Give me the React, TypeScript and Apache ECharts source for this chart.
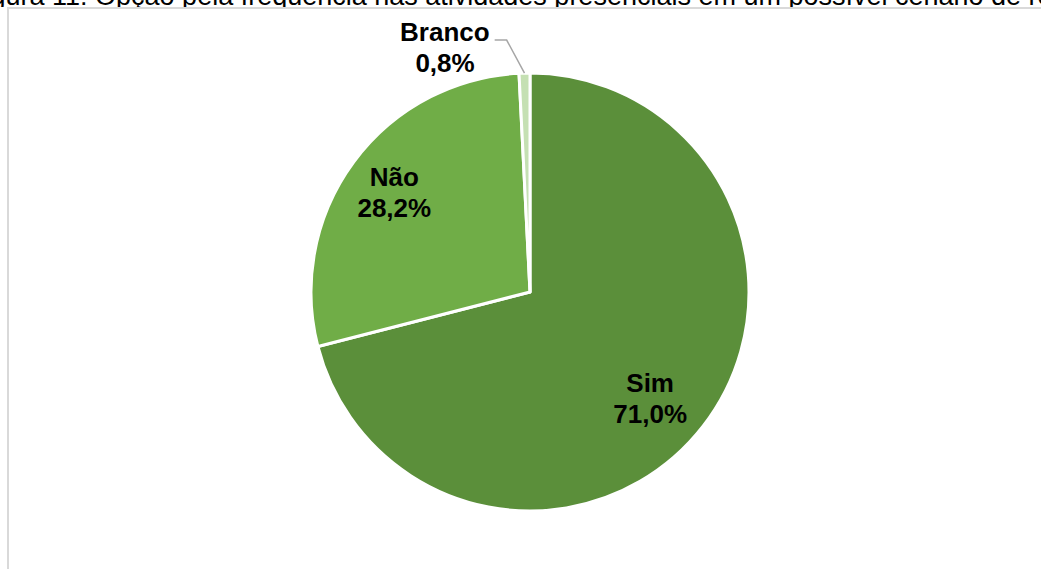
import React, { useEffect, useRef } from "react";
import * as echarts from "echarts";

const categories = ["Sim", "Não", "Branco"];
const values = [71.0, 28.2, 0.8];
const colors = ["#5b8f3a", "#70ad47", "#c5e0b3"];
const caption =
  "Figura 11: Opção pela frequência nas atividades presenciais em um possível cenário de retorno";

const fmt = (v: number) => v.toFixed(1).replace(".", ",") + "%";

export default function App() {
  const ref = useRef<HTMLDivElement>(null);
  useEffect(() => {
    if (!ref.current) return;
    const chart = echarts.init(ref.current, null, { renderer: "svg" });
    const center = [530, 292];
    const R = 219;
    const insideOffsets: Record<string, number[]> = { Sim: [-13, 3], "Não": [0, 0] };
    const data = categories.map((name, i) => ({
      name,
      value: values[i],
      itemStyle: { color: colors[i] },
    }));
    const labelFont = {
      fontFamily: "Liberation Sans, Arial, sans-serif",
      fontWeight: "bold" as const,
      fontSize: 26,
      lineHeight: 31,
      color: "#000",
    };
    chart.setOption({
      animation: false,
      backgroundColor: "#fff",
      graphic: [
        {
          type: "text",
          x: -32,
          y: -4.5,
          z: 1,
          style: {
            text: caption,
            fontFamily: "Liberation Sans, Arial, sans-serif",
            fontSize: 27,
            fill: "#000",
            verticalAlign: "middle",
            align: "left",
          },
        },
        {
          type: "rect",
          z: 2,
          shape: { x: 0, y: 7, width: 1041, height: 600 },
          style: { fill: "#fff" },
        },
        {
          type: "rect",
          z: 3,
          shape: { x: 8, y: 8, width: 1100, height: 650 },
          style: { fill: "none", stroke: "#d9d9d9", lineWidth: 2 },
        },
      ],
      series: [
        {
          type: "pie",
          z: 5,
          center,
          radius: [0, R],
          startAngle: 90,
          clockwise: true,
          silent: true,
          label: { show: false },
          labelLine: { show: false },
          itemStyle: { borderColor: "#fff", borderWidth: 3 },
          emphasis: { disabled: true },
          data,
        },
        {
          type: "pie",
          z: 6,
          center,
          radius: [112, R],
          startAngle: 90,
          clockwise: true,
          silent: true,
          avoidLabelOverlap: false,
          itemStyle: { color: "rgba(0,0,0,0)", borderWidth: 0 },
          emphasis: { disabled: true },
          data: categories.map((name, i) => {
            if (name === "Branco") {
              return {
                name,
                value: values[i],
                label: {
                  show: true,
                  position: "outside",
                  formatter: (p: any) => `{a|${p.name}}\n{b|${fmt(p.value)}}`,
                  padding: [14, 0, 0, 0],
                  rich: {
                    a: { ...labelFont },
                    b: { ...labelFont, padding: [0, 15, 0, 0] },
                  },
                },
                labelLine: {
                  show: true,
                  length: 33,
                  length2: 29,
                  smooth: false,
                  lineStyle: { color: "#a6a6a6", width: 1.5 },
                },
              };
            }
            return {
              name,
              value: values[i],
              label: {
                show: true,
                position: "inside",
                offset: insideOffsets[name] || [0, 0],
                formatter: (p: any) => `${p.name}\n${fmt(p.value)}`,
                ...labelFont,
              },
              labelLine: { show: false },
            };
          }),
          labelLayout: (params: any) => {
            if (params.dataIndex !== 2 || !params.labelLinePoints) return {};
            const p = params.labelLinePoints;
            return {
              labelLinePoints: [p[0], [p[1][0] - 17, p[1][1]], p[2]],
            };
          },
        },
      ],
    });
    return () => chart.dispose();
  }, []);
  return (
    <div
      ref={ref}
      style={{ position: "fixed", left: 0, top: 0, width: 1041, height: 569 }}
    />
  );
}
